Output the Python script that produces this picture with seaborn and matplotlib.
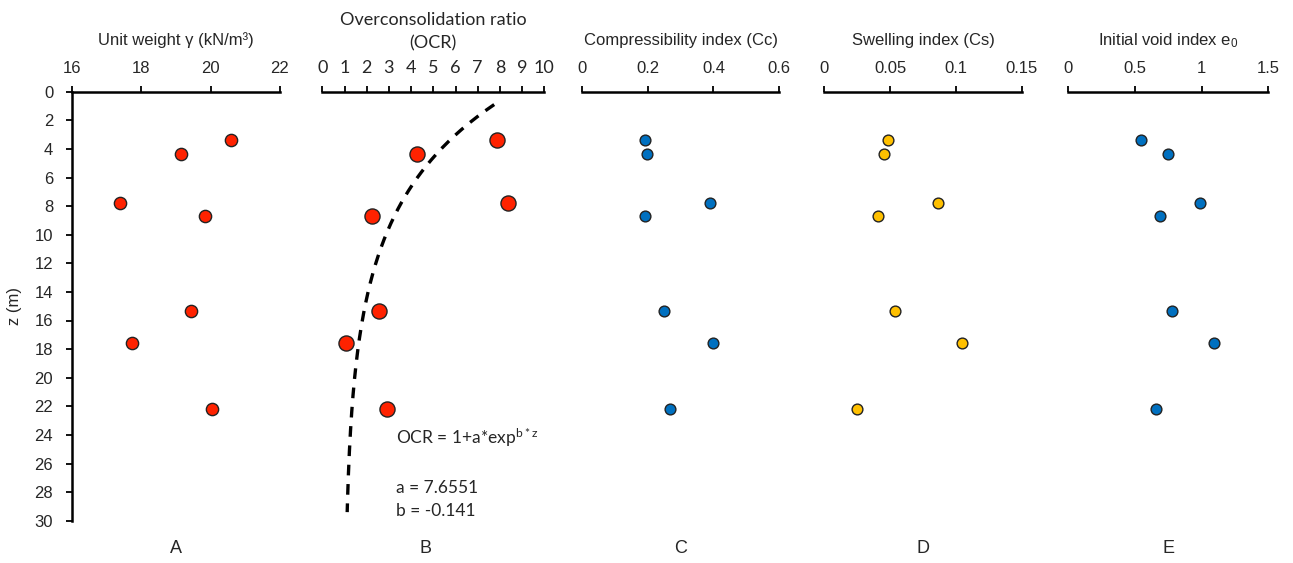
import numpy as np
import pandas as pd
import matplotlib
matplotlib.use("Agg")
import matplotlib.pyplot as plt
import seaborn as sns

# ---------------- data ----------------
depth = [3.35, 4.35, 7.75, 8.7, 15.35, 17.55, 22.2]
unit_weight = [20.6, 19.15, 17.4, 19.85, 19.45, 17.75, 20.05]
ocr = [7.85, 4.25, 8.35, 2.25, 2.55, 1.05, 2.9]
cc = [0.19, 0.198, 0.39, 0.19, 0.248, 0.40, 0.268]
cs = [0.0486, 0.0456, 0.0866, 0.0406, 0.0537, 0.105, 0.0251]
e0 = [0.545, 0.75, 0.985, 0.69, 0.775, 1.09, 0.66]
fit_a = 7.6551
fit_b = -0.141
fit_z_range = [0.9, 29.4]
panel_letters = ["A", "B", "C", "D", "E"]
titles = ["Unit weight \u03b3 (kN/m\u00b3)",
          "Overconsolidation ratio\n(OCR)",
          "Compressibility index (Cc)",
          "Swelling index (Cs)",
          "Initial void index e$_{\\mathregular{0}}$"]
xlims = [(16, 22), (0, 10), (0, 0.6), (0, 0.15), (0, 1.5)]
xticks = [[16, 18, 20, 22], list(range(0, 11)), [0, 0.2, 0.4, 0.6],
          [0, 0.05, 0.1, 0.15], [0, 0.5, 1, 1.5]]
xticklabels = [["16", "18", "20", "22"], [str(i) for i in range(11)],
               ["0", "0.2", "0.4", "0.6"], ["0", "0.05", "0.1", "0.15"],
               ["0", "0.5", "1", "1.5"]]
yticks = list(range(0, 31, 2))

df = pd.DataFrame({"z": depth, "gamma": unit_weight, "ocr": ocr,
                   "cc": cc, "cs": cs, "e0": e0})
zfit = np.linspace(fit_z_range[0], fit_z_range[1], 200)
fit_df = pd.DataFrame({"z": zfit, "ocr": 1 + fit_a * np.exp(fit_b * zfit)})

# ---------------- style ----------------
sns.set_style("white")
plt.rcParams["font.family"] = ["Liberation Sans", "DejaVu Sans"]
plt.rcParams["mathtext.fontset"] = "custom"
plt.rcParams["mathtext.rm"] = "Liberation Sans"
plt.rcParams["mathtext.it"] = "Liberation Sans"
TXT = "#262626"

fig = plt.figure(figsize=(12.93, 5.63), dpi=100)
H = 563.0
W = 1293.0
top_px, bot_px = 91.7, 520.7
panels_px = [(71.7, 280.0), (322.3, 544.3), (582.3, 779.0),
             (824.3, 1021.7), (1068.3, 1268.3)]
letter_x = [0.5, 0.465, 0.5, 0.5, 0.5]

red = "#FF2200"
blue = "#0070C0"
yellow = "#FFC000"
specs = [("gamma", red, 78), ("ocr", red, 118), ("cc", blue, 60),
         ("cs", yellow, 60), ("e0", blue, 60)]

for i, (x0, x1) in enumerate(panels_px):
    ax = fig.add_axes([x0 / W, 1 - bot_px / H, (x1 - x0) / W, (bot_px - top_px) / H])
    col, colr, s = specs[i]
    calibri = i == 1
    fam = ["Lato", "DejaVu Sans"] if calibri else ["Liberation Sans", "DejaVu Sans"]
    if i == 1:
        sns.lineplot(data=fit_df, x="ocr", y="z", ax=ax, color="black",
                     lw=2.4, linestyle=(0, (3.2, 2.6)), sort=False,
                     estimator=None)
    sns.scatterplot(data=df, x=col, y="z", ax=ax, color=colr, s=s,
                    edgecolor="#222222", linewidth=1.0, zorder=5, clip_on=False)
    ax.set_xlim(*xlims[i])
    ax.set_ylim(30, 0)
    ax.xaxis.tick_top()
    ax.xaxis.set_label_position("top")
    ax.set_xticks(xticks[i])
    ax.set_xticklabels(xticklabels[i], fontsize=12 if not calibri else 13,
                       color=TXT, family=fam)
    ax.tick_params(axis="x", direction="out", length=4, width=1.3,
                   pad=7.5, color="black", top=True, bottom=False)
    ax.set_xlabel(titles[i], fontsize=12 if not calibri else 13, color=TXT,
                  labelpad=8 if calibri else 11, family=fam, linespacing=1.6)
    for side in ["right", "bottom"]:
        ax.spines[side].set_visible(False)
    ax.spines["top"].set_linewidth(1.8)
    ax.spines["top"].set_color("black")
    if i == 0:
        ax.set_yticks(yticks)
        ax.set_yticklabels([str(t) for t in yticks], fontsize=12, color=TXT)
        ax.tick_params(axis="y", direction="out", length=4.3, width=1.3,
                       pad=9, color="black", left=True)
        ax.spines["left"].set_linewidth(1.8)
        ax.spines["left"].set_color("black")
        ax.set_ylabel("z (m)", fontsize=12, color=TXT, labelpad=9)
    else:
        ax.spines["left"].set_visible(False)
        ax.set_yticks([])
        ax.set_ylabel("")
    ax.text(letter_x[i], -0.064, panel_letters[i], transform=ax.transAxes,
            ha="center", va="center", fontsize=13, color=TXT)
    if i == 1:
        ax.text(3.3, 24.2, "OCR = 1+a*exp$^{\\mathregular{b*z}}$", fontsize=12.5,
                color=TXT, va="center", family=fam)
        ax.text(3.3, 27.7, f"a = {fit_a}", fontsize=12.5, color=TXT,
                va="center", family=fam)
        ax.text(3.3, 29.3, f"b = {fit_b}", fontsize=12.5, color=TXT,
                va="center", family=fam)

fig.savefig("out.png", dpi=100, facecolor="white")
